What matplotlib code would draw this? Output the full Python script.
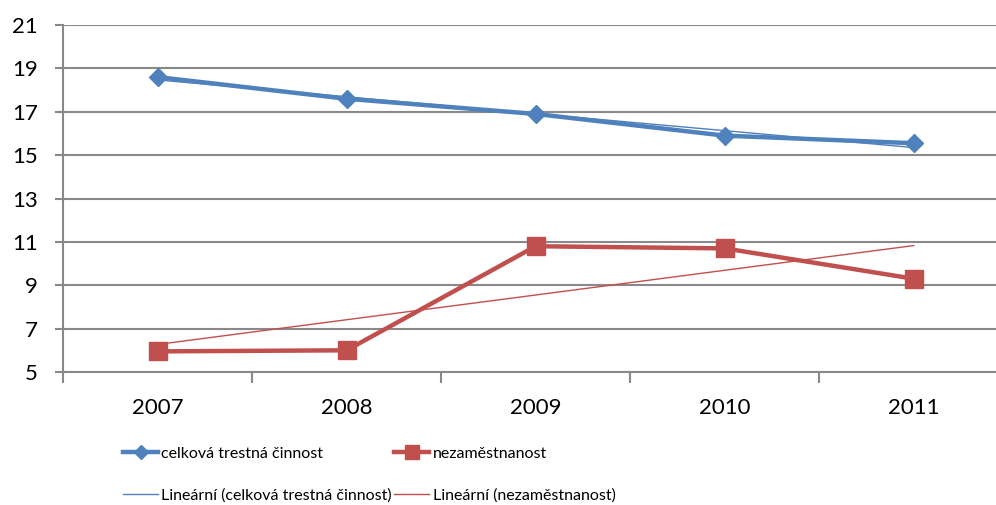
import numpy as np
import matplotlib.pyplot as plt

plt.rcParams['font.family'] = ['Lato', 'DejaVu Sans']

roky = ['2007', '2008', '2009', '2010', '2011']
trestna = [18.6, 17.6, 16.9, 15.9, 15.55]
nezam = [5.95, 6.0, 10.8, 10.7, 9.3]

modra = '#4F81BD'
cervena = '#C0504D'
seda = '#898989'

fig = plt.figure(figsize=(9.96, 5.05), dpi=100)
ax = fig.add_axes([0.0633, 0.2634, 0.949, 0.687])

x = np.arange(len(roky))

# linearni trend (jako v Excelu)
a1, b1 = np.polyfit(x, trestna, 1)
a2, b2 = np.polyfit(x, nezam, 1)

l1, = ax.plot(x, trestna, color=modra, lw=3.2, marker='D', ms=9, zorder=4,
              label='celková trestná činnost')
l2, = ax.plot(x, nezam, color=cervena, lw=3.2, marker='s', ms=13, zorder=4,
              label='nezaměstnanost')
t1, = ax.plot(x, a1 * x + b1, color=modra, lw=1, zorder=3,
              label='Lineární (celková trestná činnost)')
t2, = ax.plot(x, a2 * x + b2, color=cervena, lw=1, zorder=3,
              label='Lineární (nezaměstnanost)')

ax.set_ylim(5, 21)
ax.set_yticks(range(5, 22, 2))
ax.set_xlim(-0.5, len(roky) - 0.5)
ax.set_xticks(x)
ax.set_xticklabels(roky)
ax.set_xticks(np.arange(-0.5, len(roky), 1), minor=True)

ax.yaxis.grid(True, color=seda, lw=1.5)
ax.set_axisbelow(True)
for s in ['top', 'right', 'bottom']:
    ax.spines[s].set_visible(False)
ax.spines['left'].set_color(seda)
ax.spines['left'].set_linewidth(1.5)
ax.axhline(5, color=seda, lw=1.5, zorder=2, clip_on=False)

ax.tick_params(axis='y', length=6, width=1.5, color=seda, labelsize=16, pad=12)
ax.tick_params(axis='x', which='major', length=0, labelsize=16, pad=19)
ax.tick_params(axis='x', which='minor', length=8, width=1.5, color=seda)

fig.legend(handles=[l1, t1, l2, t2], ncol=2, frameon=False, fontsize=11.5,
           loc='upper left', bbox_to_anchor=(0.1235, 0.116),
           handlelength=2.2, handletextpad=0.2, columnspacing=0.15,
           labelspacing=1.75, borderaxespad=0, borderpad=0, markerscale=0.8)

fig.savefig('out.png', dpi=100)
